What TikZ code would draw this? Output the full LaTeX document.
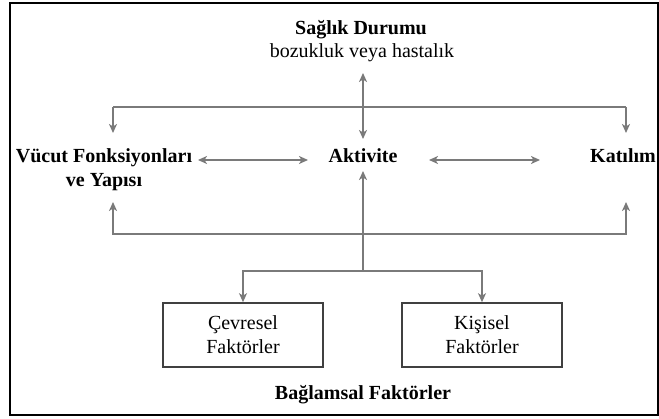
\documentclass[tikz,border=0pt]{standalone}
\usepackage{fontspec}
\setmainfont{Liberation Serif}
\usetikzlibrary{arrows.meta}
\definecolor{ln}{HTML}{7A7A7A}
\begin{document}
\begin{tikzpicture}[x=1pt,y=-1pt,
  conn/.style={draw=ln, line width=1.8pt},
  tip/.tip={Stealth[length=9pt,width=8pt,inset=2.5pt]},
  arr/.style={conn, -tip},
  darr/.style={conn, tip-tip},
  lbl/.style={font=\fontsize{20}{24}\selectfont\bfseries, inner sep=0pt, align=center},
  txt/.style={font=\fontsize{20}{24}\selectfont, inner sep=0pt, align=center},
  fbox/.style={draw=black!75, line width=1.6pt, minimum width=160pt, minimum height=64pt,
    font=\fontsize{20}{24}\selectfont, align=center, inner sep=0pt}]
\useasboundingbox (0,0) rectangle (659,419);
\draw[line width=2pt] (10,3) rectangle (658,415);

% texts
\node[lbl, anchor=base] (sd) at (361,35) {Sağlık Durumu};
\node[txt, anchor=base] (bh) at (362,58) {bozukluk veya hastalık};
\node[lbl, anchor=base] (akt) at (363,163) {Aktivite};
\node[lbl, anchor=base] (kat) at (623,163) {Katılım};
\node[lbl] (vf) at (104,170) {Vücut Fonksiyonları\\ve Yapısı};
\node[fbox] (cf) at (243,335) {Çevresel\\Faktörler};
\node[fbox] (kf) at (482,335) {Kişisel\\Faktörler};
\node[lbl, anchor=base] (bf) at (363,400) {Bağlamsal Faktörler};

% coordinates
\coordinate (st) at (363,73);
\coordinate (sb) at (363,139);
\coordinate (tl) at (113,107);
\coordinate (tr) at (626,107);
\coordinate (tlb) at (113,133);
\coordinate (trb) at (626,133);
\coordinate (bl) at (113,234);
\coordinate (br) at (626,234);
\coordinate (blt) at (113,202);
\coordinate (brt) at (626,202);
\coordinate (l1) at (198,160);
\coordinate (l2) at (308,160);
\coordinate (r1) at (429,160);
\coordinate (r2) at (540,160);
\coordinate (ab) at (363,271);
\coordinate (at) at (363,171);
\coordinate (jl) at (cf.north |- ab);
\coordinate (jr) at (kf.north |- ab);

% connectors
\draw[darr] (st) -- (sb);
\draw[conn] (tl) -- (tr);
\draw[arr] (tl) -- (tlb);
\draw[arr] (tr) -- (trb);
\draw[darr] (l1) -- (l2);
\draw[darr] (r1) -- (r2);
\draw[darr] (blt) -- (bl) -- (br) -- (brt);
\draw[arr] (ab) -- (at);
\draw[darr] (cf.north) -- (jl) -- (jr) -- (kf.north);
\end{tikzpicture}
\end{document}
